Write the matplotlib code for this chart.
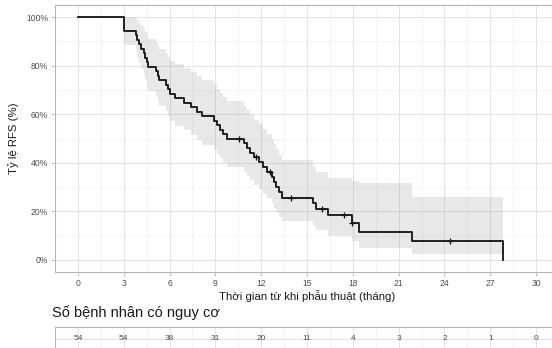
import matplotlib
matplotlib.use("Agg")
import matplotlib.pyplot as plt

plt.rcParams['font.family'] = ['Liberation Sans', 'DejaVu Sans']

# Kaplan-Meier steps (months, % RFS)
times = [0, 3.0, 3.8, 3.9, 4.0, 4.15, 4.3, 4.4, 4.5, 4.6, 5.1, 5.25, 5.3, 5.8, 5.9,
         6.02, 6.33, 6.92, 7.42, 7.79, 8.12, 8.88,
         9.1, 9.3, 9.5, 9.76,
         10.85, 11.1, 11.3, 11.5,
         11.85, 12.15, 12.4,
         12.7, 12.85, 13.0, 13.15, 13.35,
         15.39, 15.6, 16.35, 17.94, 18.38, 21.87, 27.83]
surv = [100, 94.4, 92.6, 90.7, 88.9, 87.0, 85.2, 83.3, 81.5, 79.6, 77.8, 75.9, 74.1, 72.2, 70.4,
        68.5, 66.7, 64.8, 63.0, 61.1, 59.3, 57.4,
        55.6, 53.7, 51.9, 50.0,
        48.1, 46.2, 44.2, 42.3,
        40.3, 38.3, 36.3,
        34.2, 32.0, 29.9, 27.8, 25.6,
        23.3, 21.0, 18.4, 15.3, 11.5, 7.7, 0]
ci_low = [100, 88.5, 85.9, 83.3, 80.9, 78.5, 76.2, 73.9, 71.7, 69.6, 67.5, 65.3, 63.3, 61.2, 59.2,
          57.2, 55.2, 53.3, 51.3, 49.4, 47.5, 45.6,
          43.8, 42.0, 40.1, 38.3,
          36.4, 34.6, 32.7, 30.9,
          29.0, 27.2, 25.4,
          23.4, 21.5, 19.6, 17.8, 16.0,
          14.0, 12.1, 10.0, 7.6, 4.7, 2.3, 2.3]
ci_high = [100, 100, 99.8, 98.8, 97.7, 96.4, 95.2, 93.9, 92.5, 91.1, 89.7, 88.2, 86.8, 85.2, 83.7,
           82.1, 80.5, 78.9, 77.3, 75.6, 74.0, 72.3,
           70.5, 68.8, 67.1, 65.3,
           63.5, 61.7, 59.7, 57.8,
           55.9, 53.9, 51.9,
           49.8, 47.7, 45.5, 43.3, 41.0,
           38.7, 36.3, 33.7, 32.5, 31.5, 25.7, 25.7]

# censored observations
cens_t = [10.58, 11.68, 12.55, 13.95, 15.98, 17.44, 17.96, 24.34]
cens_s = [50.0, 42.3, 36.3, 25.6, 21.0, 18.4, 15.3, 7.7]

# number at risk table
risk_t = [0, 3, 6, 9, 12, 15, 18, 21, 24, 27, 30]
risk_n = [54, 54, 38, 31, 20, 11, 4, 3, 2, 1, 0]

W, H = 552, 348
fig = plt.figure(figsize=(W / 100, H / 100), dpi=100)

def box(l, t, r, b):
    return [l / W, 1 - b / H, (r - l) / W, (b - t) / H]

border = '#B3B3B3'
grid = '#E3E3E3'
txt = '#4D4D4D'
xmaj = list(range(0, 31, 3))
xmin = [x + 1.5 for x in range(-3, 31, 3)]

def style(a):
    for s in a.spines.values():
        s.set_color(border)
        s.set_linewidth(0.8)
    a.set_xlim(-1.5, 31.5)
    a.set_xticks(xmaj)
    a.set_xticks(xmin, minor=True)
    a.grid(True, which='major', color=grid, lw=0.7)
    a.grid(True, which='minor', color='#F0F0F0', lw=0.5)
    a.set_axisbelow(True)

ax = fig.add_axes(box(55, 5, 559, 272))
style(ax)
ax.set_ylim(-5, 105)
ax.set_yticks([0, 20, 40, 60, 80, 100])
ax.set_yticks([10, 30, 50, 70, 90], minor=True)
ax.set_yticklabels([f'{v}%' for v in [0, 20, 40, 60, 80, 100]])
ax.tick_params(which='major', length=3, width=0.6, color=border, labelsize=6.2,
               labelcolor=txt, pad=2)
ax.tick_params(which='minor', length=0)

ax.fill_between(times, ci_low, ci_high, step='post', color='grey', alpha=0.18, lw=0)
ax.step(times, surv, where='post', color='#111111', lw=1.3)
ax.plot(cens_t, cens_s, ls='none', marker='+', ms=5, mew=0.9, color='#111111')

ax.set_xlabel('Thời gian từ khi phẫu thuật (tháng)', fontsize=8.2, color='#1A1A1A', labelpad=1.5)
ax.set_ylabel('Tỷ lệ RFS (%)', fontsize=8.2, color='#1A1A1A', labelpad=5)

tab = fig.add_axes(box(55, 327, 559, 350))
style(tab)
tab.set_ylim(0, 1)
tab.set_yticks([0.5])
tab.tick_params(which='both', length=0, labelbottom=False, labelleft=False)
for t, n in zip(risk_t, risk_n):
    tab.text(t, 0.5, str(n), ha='center', va='center', fontsize=6, color=txt)

fig.text(52 / W, 1 - 313 / H, 'Số bệnh nhân có nguy cơ', ha='left', va='center',
         fontsize=10.5, color='#1A1A1A')

fig.savefig('out.png', dpi=100)
